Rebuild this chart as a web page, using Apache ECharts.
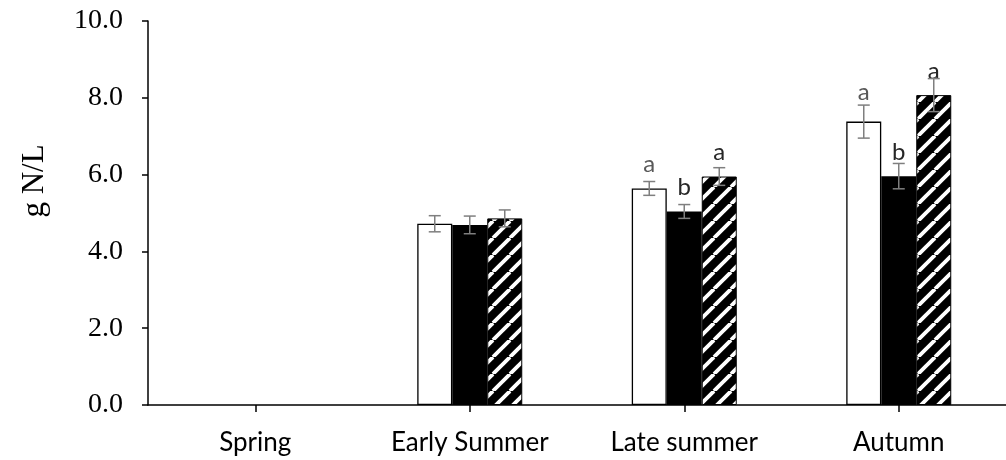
<!DOCTYPE html>
<html>
<head>
<meta charset="utf-8">
<script src="https://cdn.jsdelivr.net/npm/echarts@6/dist/echarts.min.js"></script>
<style>html,body{margin:0;padding:0;background:#fff}#c{width:1006px;height:460px}</style>
</head>
<body>
<div id="c"></div>
<script>
const categories = ['Spring', 'Early Summer', 'Late summer', 'Autumn'];
const whiteValues = [null, 4.72, 5.64, 7.38];
const blackValues = [null, 4.69, 5.04, 5.96];
const hatchValues = [null, 4.86, 5.95, 8.07];
const whiteErrors = [null, 0.21, 0.18, 0.43];
const blackErrors = [null, 0.23, 0.18, 0.33];
const hatchErrors = [null, 0.22, 0.23, 0.43];
const whiteLetters = ['', '', 'a', 'a'];
const blackLetters = ['', '', 'b', 'b'];
const hatchLetters = ['', '', 'a', 'a'];
const yTicks = { min: 0, max: 10, interval: 2 };
const yName = 'g N/L';

// hatch pattern
const P = 17;
const pc = document.createElement('canvas');
pc.width = P; pc.height = P;
const g = pc.getContext('2d');
g.fillStyle = '#000'; g.fillRect(0, 0, P, P);
g.strokeStyle = '#fff'; g.lineWidth = 3.8;
[-P, 0, P].forEach(dx => {
  g.beginPath(); g.moveTo(dx, P); g.lineTo(dx + P, 0); g.stroke();
});
const hatchFill = { image: pc, repeat: 'repeat' };

const BW = 35;
const chart = echarts.init(document.getElementById('c'));

function barSeries(name, values, letters, style, labelColor, extraDist) {
  return {
    name, type: 'bar', barWidth: BW, barGap: '0%',
    data: values.map((v, i) => ({
      value: v,
      label: { formatter: letters[i], distance: 12 + (extraDist[i] || 0) }
    })),
    itemStyle: style,
    label: {
      show: true, position: 'top',
      fontFamily: 'Lato', fontSize: 24, color: labelColor
    },
    silent: true, animation: false
  };
}
function errSeries(values, errors, offsetIdx) {
  return {
    type: 'custom', animation: false, silent: true, z: 10,
    data: values.map((v, i) => v == null ? null : [i, v, errors[i]]).filter(d => d),
    encode: { x: 0, y: 1 },
    renderItem: function (params, api) {
      const x = api.value(0), m = api.value(1), e = api.value(2);
      const top = api.coord([x, m + e]);
      const bot = api.coord([x, m - e]);
      const cx = top[0] + offsetIdx * BW;
      const hw = 6;
      const st = { stroke: '#7f7f7f', lineWidth: 1.5 };
      return {
        type: 'group', children: [
          { type: 'line', shape: { x1: cx, y1: top[1], x2: cx, y2: bot[1] }, style: st },
          { type: 'line', shape: { x1: cx - hw, y1: top[1], x2: cx + hw, y2: top[1] }, style: st },
          { type: 'line', shape: { x1: cx - hw, y1: bot[1], x2: cx + hw, y2: bot[1] }, style: st }
        ]
      };
    }
  };
}

chart.setOption({
  animation: false,
  grid: { left: 148, top: 21, bottom: 55, width: 869 },
  graphic: [{
    type: 'text', x: 35, y: 181, rotation: Math.PI / 2,
    style: { text: yName, fontFamily: 'Liberation Serif', fontSize: 31, fill: '#000',
      align: 'center', verticalAlign: 'middle' }
  }],
  xAxis: {
    type: 'category', data: categories,
    axisLine: { lineStyle: { color: '#000', width: 1.5 } },
    axisTick: { show: true, alignWithLabel: true, length: 7, lineStyle: { color: '#000', width: 1.5 } },
    axisLabel: { fontFamily: 'Lato', fontSize: 26, color: '#000', margin: 25 }
  },
  yAxis: {
    type: 'value', min: yTicks.min, max: yTicks.max, interval: yTicks.interval,
    splitLine: { show: false },
    axisLine: { show: true, lineStyle: { color: '#000', width: 1.5 } },
    axisTick: { show: true, length: 6, lineStyle: { color: '#000', width: 1.5 } },
    axisLabel: { fontFamily: 'Liberation Serif', fontSize: 28, color: '#000', margin: 25,
      formatter: v => v.toFixed(1) }
  },
  series: [
    barSeries('white', whiteValues, whiteLetters, { color: '#fff', borderColor: '#000', borderWidth: 1.3 }, '#595959', [0, 0, 0, 5]),
    barSeries('black', blackValues, blackLetters, { color: '#000' }, '#262626', [0, 0, 0, 0]),
    barSeries('hatch', hatchValues, hatchLetters, { color: hatchFill, borderColor: '#000', borderWidth: 1 }, '#262626', [0, 0, 0, 0]),
    errSeries(whiteValues, whiteErrors, -1),
    errSeries(blackValues, blackErrors, 0),
    errSeries(hatchValues, hatchErrors, 1)
  ]
});
</script>
</body>
</html>
